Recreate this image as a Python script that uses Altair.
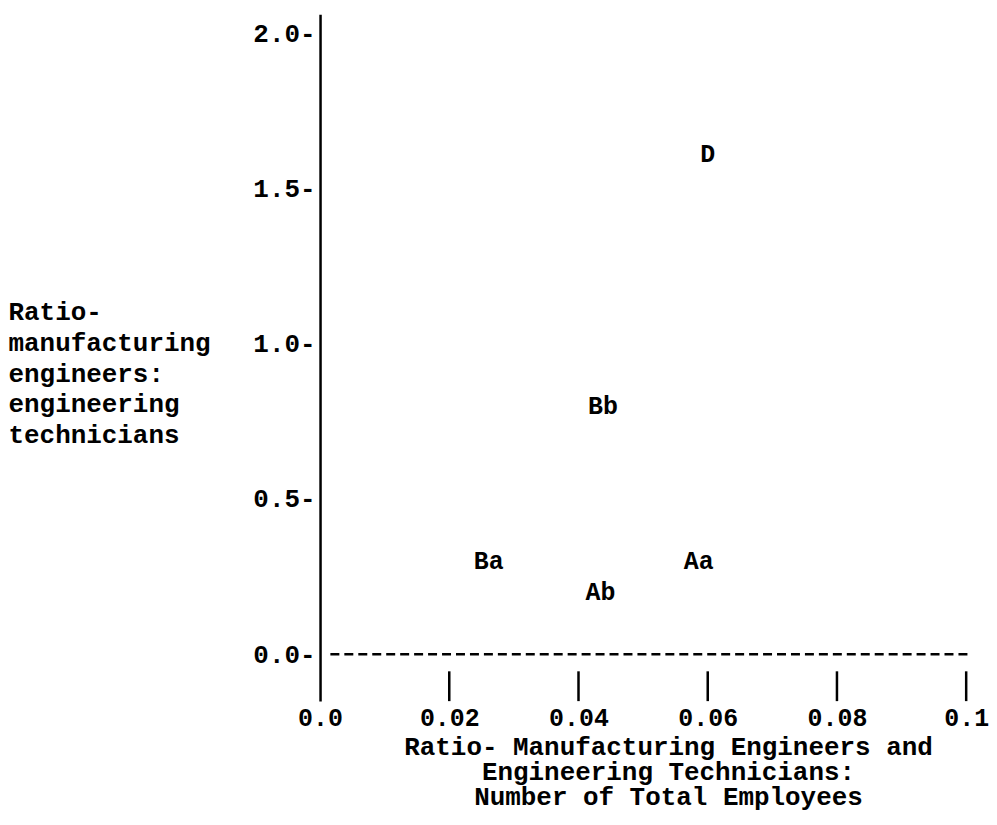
import altair as alt
import pandas as pd

# point labels and their positions
labels = ["D", "Bb", "Ba", "Aa", "Ab"]
x_ratio = [0.0600, 0.0438, 0.0261, 0.0586, 0.0434]
y_ratio = [1.61, 0.80, 0.30, 0.30, 0.20]

x_ticks = [0.0, 0.02, 0.04, 0.06, 0.08, 0.1]
y_ticks = [0.0, 0.5, 1.0, 1.5, 2.0]

FONT = "Liberation Mono"

pts = pd.DataFrame({"x": x_ratio, "y": y_ratio, "label": labels})
ticks_df = pd.DataFrame({"x": x_ticks[1:], "y": [-0.055] * 5, "y2": [-0.151] * 5})
zero_df = pd.DataFrame({"x": [0.0016], "x2": [0.1006], "y": [0.0]})

xscale = alt.Scale(domain=[0, 0.1006], nice=False, zero=False)
yscale = alt.Scale(domain=[-0.151, 2.061], nice=False, zero=False)

x_axis = alt.Axis(
    values=x_ticks,
    labelExpr="datum.value == 0 ? '0.0' : datum.value == 0.1 ? '0.1' : format(datum.value, '.2f')",
    domain=False, ticks=False, grid=False,
    labelFont=FONT, labelFontSize=25, labelFontWeight="bold", labelColor="black",
    labelPadding=4, labelFlush=False, labelOverlap=False,
    title=["Ratio- Manufacturing Engineers and", "Engineering Technicians:", "Number of Total Employees"],
    titleFont=FONT, titleFontSize=26, titleFontWeight="bold", titleColor="black",
    titleX=349, titleY=54, titleAlign="center", titleBaseline="alphabetic",
    titleLineHeight=25, titleAnchor="start",
)

y_axis = alt.Axis(
    values=y_ticks,
    labelExpr="format(datum.value, '.1f') + '-'",
    domain=True, domainColor="black", domainWidth=2.5,
    ticks=False, grid=False,
    labelFont=FONT, labelFontSize=26, labelFontWeight="bold", labelColor="black",
    labelPadding=5, labelFlush=False, labelOverlap=False, labelBaseline="middle",
    title=["Ratio-", "manufacturing", "engineers:", "engineering", "technicians"],
    titleFont=FONT, titleFontSize=26, titleFontWeight="bold", titleColor="black",
    titleAngle=0, titleX=-313, titleY=306, titleAlign="left", titleBaseline="alphabetic",
    titleLineHeight=31, titleAnchor="start",
)

base_axes = alt.Chart(pts).mark_point(opacity=0).encode(
    x=alt.X("x:Q", scale=xscale, axis=x_axis),
    y=alt.Y("y:Q", scale=yscale, axis=y_axis),
)

text = alt.Chart(pts).mark_text(
    font=FONT, fontSize=25, fontWeight="bold", color="black", align="center", baseline="middle"
).encode(
    x=alt.X("x:Q", scale=xscale),
    y=alt.Y("y:Q", scale=yscale),
    text="label:N",
)

tick_rules = alt.Chart(ticks_df).mark_rule(color="black", strokeWidth=2.5).encode(
    x=alt.X("x:Q", scale=xscale),
    y=alt.Y("y:Q", scale=yscale),
    y2="y2:Q",
)

zero_line = alt.Chart(zero_df).mark_rule(color="black", strokeWidth=2.5, strokeDash=[9, 5]).encode(
    x=alt.X("x:Q", scale=xscale),
    x2="x2:Q",
    y=alt.Y("y:Q", scale=yscale),
)

chart = alt.layer(base_axes, zero_line, tick_rules, text).properties(
    width=652,
    height=689,
    padding={"left": 313, "top": 5, "right": 19, "bottom": 120},
    autosize=alt.AutoSizeParams(type="none"),
    background="white",
).configure_view(stroke=None)

chart.save("out.html", embed_options={"renderer": "svg", "actions": False})
